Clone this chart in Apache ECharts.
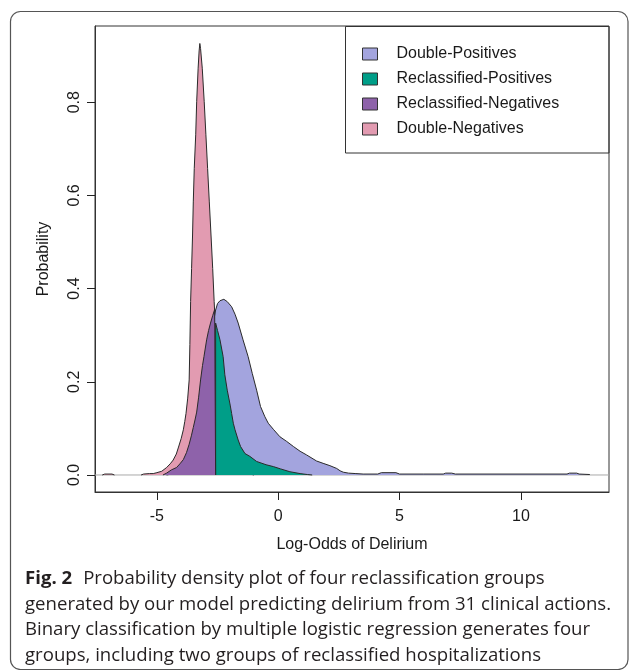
<!DOCTYPE html>
<html>
<head>
<meta charset="utf-8">
<script src="https://cdn.jsdelivr.net/npm/echarts@6.0.0/dist/echarts.min.js"></script>
<style>
  html, body { margin: 0; padding: 0; background: #ffffff; }
  #chart { width: 629px; height: 670px; }
</style>
</head>
<body>
<div id="chart"></div>
<script>
// ---------- data ----------
const xTicks = [-5, 0, 5, 10];
const yTicks = [0, 0.2, 0.4, 0.6, 0.8];
const xRange = [-7.55, 13.63];
const yRange = [-0.0365, 0.9635];

const groupNames = ['Double-Positives', 'Reclassified-Positives', 'Reclassified-Negatives', 'Double-Negatives'];
const groupColors = ['#A3A4DE', '#009E88', '#8E62AA', '#E29BB1'];

// Double-Negatives density (log-odds, probability)
const doubleNegatives = [
  [-7.25, 0], [-7.15, 0.002], [-6.85, 0.002], [-6.75, 0], [-6.7, '-'],
  [-5.65, 0], [-5.55, 0.002], [-5.3, 0.003], [-5.15, 0.003], [-5.0, 0.005],
  [-4.8, 0.008], [-4.6, 0.016], [-4.45, 0.024], [-4.33, 0.032], [-4.2, 0.045],
  [-4.12, 0.058], [-4.0, 0.078], [-3.91, 0.097], [-3.85, 0.115], [-3.8, 0.132],
  [-3.73, 0.165], [-3.67, 0.204], [-3.64, 0.28], [-3.61, 0.372], [-3.57, 0.443],
  [-3.53, 0.515], [-3.5, 0.586], [-3.46, 0.658], [-3.4, 0.73], [-3.36, 0.801],
  [-3.3, 0.873], [-3.26, 0.91], [-3.23, 0.926], [-3.2, 0.915], [-3.13, 0.873],
  [-3.05, 0.801], [-2.98, 0.73], [-2.91, 0.658], [-2.84, 0.586], [-2.77, 0.515],
  [-2.7, 0.443], [-2.64, 0.372], [-2.58, 0.31], [-2.5, 0.24], [-2.4, 0.16],
  [-2.3, 0.1], [-2.2, 0.06], [-2.0, 0.03], [-1.7, 0.012], [-1.3, 0.004], [-1.0, 0]
];

// Double-Positives density
const doublePositives = [
  [-4.6, 0], [-4.3, 0.003], [-4.0, 0.01], [-3.7, 0.03], [-3.4, 0.07],
  [-3.2, 0.11], [-3.0, 0.17], [-2.85, 0.23], [-2.75, 0.28], [-2.66, 0.33],
  [-2.58, 0.354], [-2.5, 0.368], [-2.4, 0.374], [-2.24, 0.377], [-2.1, 0.372],
  [-1.92, 0.361], [-1.78, 0.345], [-1.65, 0.326], [-1.45, 0.29], [-1.24, 0.254],
  [-1.07, 0.218], [-0.89, 0.182], [-0.73, 0.147], [-0.55, 0.125], [-0.41, 0.111],
  [-0.2, 0.098], [0.07, 0.082], [0.35, 0.072], [0.63, 0.061], [0.9, 0.051],
  [1.17, 0.043], [1.58, 0.03], [1.85, 0.025], [2.13, 0.02], [2.41, 0.014],
  [2.55, 0.009], [2.68, 0.006], [2.9, 0.004], [3.2, 0.003], [3.5, 0.002],
  [4.1, 0.002], [4.25, 0.005], [4.85, 0.005], [5.0, 0.002], [6.0, 0.002],
  [6.8, 0.002], [6.9, 0.004], [7.15, 0.004], [7.3, 0.002], [11.9, 0.002],
  [12.0, 0.004], [12.3, 0.004], [12.4, 0.002], [12.84, 0.001], [12.84, 0]
];

// Reclassified-Positives density (right of the cut-off)
const reclassifiedPositives = [
  [-2.58, 0], [-2.58, 0.326], [-2.5, 0.31], [-2.4, 0.29], [-2.27, 0.254],
  [-2.2, 0.215], [-2.1, 0.182], [-1.98, 0.15], [-1.92, 0.132], [-1.85, 0.111],
  [-1.78, 0.097], [-1.65, 0.075], [-1.55, 0.061], [-1.37, 0.046], [-1.17, 0.04],
  [-0.89, 0.029], [-0.5, 0.022], [-0.2, 0.018], [0.1, 0.013], [0.48, 0.007],
  [0.9, 0.003], [1.2, 0.001], [1.4, 0]
];

// Reclassified-Negatives density (left of the cut-off)
const reclassifiedNegatives = [
  [-4.75, 0], [-4.6, 0.004], [-4.53, 0.007], [-4.4, 0.011], [-4.19, 0.016],
  [-4.05, 0.024], [-3.91, 0.033], [-3.78, 0.048], [-3.67, 0.066], [-3.58, 0.084],
  [-3.5, 0.102], [-3.43, 0.118], [-3.36, 0.135], [-3.28, 0.167], [-3.2, 0.204],
  [-3.12, 0.235], [-3.06, 0.254], [-2.95, 0.29], [-2.87, 0.31], [-2.79, 0.326],
  [-2.7, 0.342], [-2.62, 0.355], [-2.58, 0.358], [-2.58, 0]
];

const baseline = [[xRange[0], 0], [xRange[1], 0]];

const captionLines = [
  '{b|Fig. 2}Probability density plot of four reclassification groups',
  'generated by our model predicting delirium from 31 clinical actions.',
  'Binary classification by multiple logistic regression generates four',
  'groups, including two groups of reclassified hospitalizations'
];

// ---------- chart ----------
const FONT = 'Liberation Sans, Arial, sans-serif';
const CAPFONT = 'Open Sans';
const CAPSIZE = 18.6;
const OUTLINE = '#2a2a2a';
const AXISCOL = '#333333';
const TICKCOL = '#222222';

function densitySeries(name, data, color, z) {
  return {
    name: name,
    type: 'line',
    z: z,
    data: data,
    symbol: 'none',
    showSymbol: false,
    smooth: false,
    connectNulls: false,
    lineStyle: { color: OUTLINE, width: 1 },
    itemStyle: { color: color },
    areaStyle: { color: color, opacity: 1, origin: 'auto' },
    emphasis: { disabled: true },
    silent: true
  };
}

const chart = echarts.init(document.getElementById('chart'));

const option = {
  animation: false,
  backgroundColor: '#ffffff',
  grid: {
    left: 95, top: 26, width: 514, height: 466,
    show: true, borderColor: AXISCOL, borderWidth: 1,
    outerBoundsMode: 'none'
  },
  xAxis: {
    type: 'value',
    min: xRange[0], max: xRange[1],
    name: 'Log-Odds of Delirium',
    nameLocation: 'middle',
    nameGap: 45,
    nameTextStyle: { fontFamily: FONT, fontSize: 16, color: '#1a1a1a' },
    axisLine: { show: true, onZero: false, lineStyle: { color: AXISCOL } },
    splitLine: { show: false },
    axisTick: { show: true, length: 8, customValues: xTicks,
                lineStyle: { color: TICKCOL, width: 1 } },
    axisLabel: { customValues: xTicks, margin: 17,
                 fontFamily: FONT, fontSize: 16, color: '#1a1a1a' }
  },
  yAxis: {
    type: 'value',
    min: yRange[0], max: yRange[1],
    name: 'Probability',
    nameLocation: 'middle',
    nameGap: 43,
    nameRotate: 90,
    nameTextStyle: { fontFamily: FONT, fontSize: 16, color: '#1a1a1a' },
    axisLine: { show: true, onZero: false, lineStyle: { color: AXISCOL } },
    splitLine: { show: false },
    axisTick: { show: true, length: 8, customValues: yTicks,
                lineStyle: { color: TICKCOL, width: 1 } },
    axisLabel: { customValues: yTicks, margin: 12, rotate: 90,
                 fontFamily: FONT, fontSize: 16, color: '#1a1a1a',
                 formatter: function (v) { return v.toFixed(1); } }
  },
  legend: {
    orient: 'vertical',
    left: 362, top: 46,
    padding: 0,
    itemWidth: 15, itemHeight: 12, itemGap: 9,
    icon: 'rect',
    selectedMode: false,
    textStyle: { fontFamily: FONT, fontSize: 16, color: '#1a1a1a',
                 padding: [0, 0, 0, 14] },
    data: groupNames.map(function (n, i) {
      return { name: n, icon: 'rect',
               itemStyle: { color: groupColors[i], borderColor: AXISCOL, borderWidth: 1 } };
    })
  },
  graphic: [
    { type: 'rect', silent: true, z: 100,
      shape: { x: 345.5, y: 26.5, width: 263.5, height: 126.5 },
      style: { fill: 'none', stroke: AXISCOL, lineWidth: 1 } },
    { type: 'rect', silent: true, z: 100,
      shape: { x: 10.5, y: 11.5, width: 617.5, height: 658, r: 10 },
      style: { fill: 'none', stroke: '#555555', lineWidth: 1.2 } },
    { type: 'text', silent: true, z: 100,
      x: 25, y: 566,
      style: {
        text: captionLines.join('\n'),
        fontFamily: CAPFONT, fontSize: CAPSIZE, lineHeight: 25.5,
        fill: '#231f20', verticalAlign: 'top', align: 'left',
        rich: { b: { fontFamily: CAPFONT, fontWeight: 'bold', fontSize: CAPSIZE,
                     lineHeight: 25.5, fill: '#231f20', padding: [0, 11, 0, 0] } }
      } }
  ],
  series: [
    { name: 'baseline', type: 'line', z: 2, data: baseline, symbol: 'none', silent: true,
      lineStyle: { color: '#aaaaaa', width: 1 }, emphasis: { disabled: true } },
    densitySeries(groupNames[3], doubleNegatives, groupColors[3], 3),
    densitySeries(groupNames[0], doublePositives, groupColors[0], 4),
    densitySeries(groupNames[1], reclassifiedPositives, groupColors[1], 5),
    densitySeries(groupNames[2], reclassifiedNegatives, groupColors[2], 6)
  ]
};

chart.setOption(option);
</script>
</body>
</html>
